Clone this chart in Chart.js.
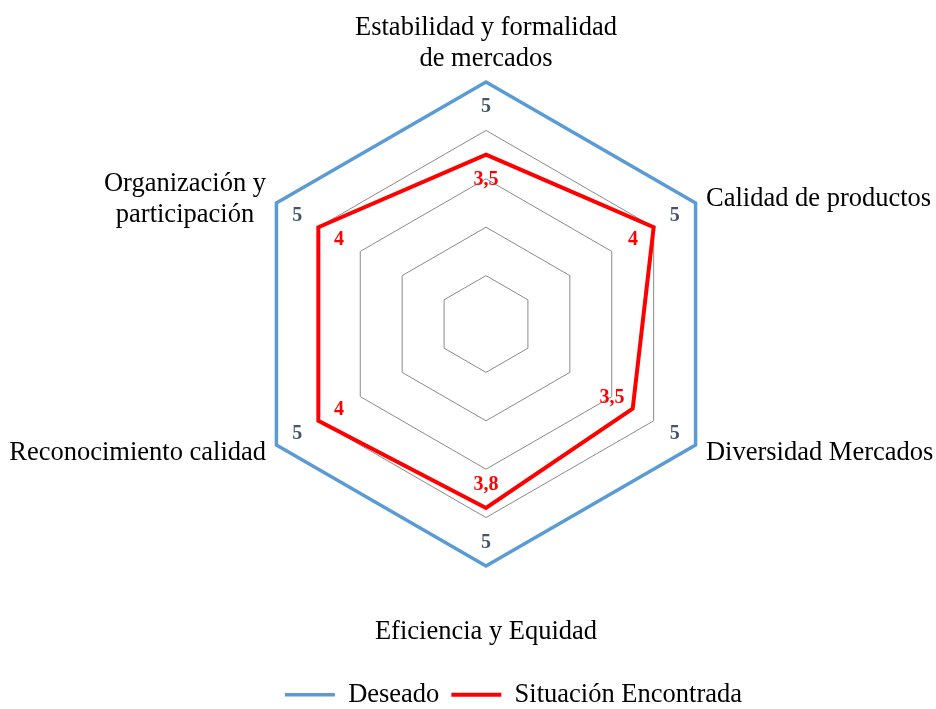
<!DOCTYPE html>
<html lang="es">
<head>
<meta charset="utf-8">
<title>Radar</title>
<script src="https://cdn.jsdelivr.net/npm/chart.js@4.4.1/dist/chart.umd.min.js"></script>
<style>
  html, body { margin: 0; padding: 0; background: #fff; }
  #chart { display: block; }
</style>
</head>
<body>
<canvas id="chart" width="936" height="709"></canvas>
<script>
// --- DATA ---
const categories = [
  ['Estabilidad y formalidad', 'de mercados'],
  'Calidad de productos',
  'Diversidad Mercados',
  'Eficiencia y Equidad',
  'Reconocimiento calidad',
  ['Organización y', 'participación']
];
const seriesNames = ['Deseado', 'Situación Encontrada'];
const deseado = [5, 5, 5, 5, 5, 5];
const situacion = [3.5, 4, 3.5, 3.8, 4, 4];
const scaleTicks = [0, 1, 2, 3, 4, 5];

// --- STYLE ---
const SERIF = "'Liberation Serif', 'Times New Roman', serif";
const lineColors = ['#5B9BD5', '#FF0000'];
const valueColors = ['#44546A', '#FF0000'];
const labelGap = [10, 12, 12, 48, 12, 12];   // distance from outer ring to each axis label

// axis labels drawn around the outer ring (centered multi-line blocks)
const axisLabels = {
  id: 'axisLabels',
  afterDraw(chart) {
    const scale = chart.scales.r;
    const ctx = chart.ctx;
    const lineH = 31;
    ctx.save();
    ctx.font = '26.5px ' + SERIF;
    ctx.fillStyle = '#000';
    ctx.textAlign = 'center';
    ctx.textBaseline = 'middle';
    chart.data.labels.forEach((lab, i) => {
      const lines = [].concat(lab);
      const p = scale.getPointPosition(i, scale.drawingArea + labelGap[i]);
      const w = Math.max(...lines.map(t => ctx.measureText(t).width));
      const h = lines.length * lineH;
      const dx = p.x - scale.xCenter;
      const dy = p.y - scale.yCenter;
      let cx = p.x, top;
      if (Math.abs(dx) < 1) {
        top = dy < 0 ? p.y - h : p.y;
      } else {
        cx = dx > 0 ? p.x + w / 2 : p.x - w / 2;
        top = p.y - h / 2;
      }
      // +2.5: serif 'middle' baseline sits a touch high
      lines.forEach((t, k) => ctx.fillText(t, cx, top + lineH * (k + 0.5) + 2.5));
    });
    ctx.restore();
  }
};

// value labels placed just inside each vertex
const valueLabels = {
  id: 'valueLabels',
  afterDatasetsDraw(chart) {
    const scale = chart.scales.r;
    const ctx = chart.ctx;
    ctx.save();
    ctx.font = 'bold 20px ' + SERIF;
    ctx.textAlign = 'center';
    ctx.textBaseline = 'middle';
    chart.data.datasets.forEach((ds, d) => {
      ctx.fillStyle = valueColors[d];
      ds.data.forEach((v, i) => {
        const p = scale.getPointPosition(i, scale.getDistanceFromCenterForValue(v) - 24);
        ctx.fillText(String(v).replace('.', ','), p.x, p.y + 1);
      });
    });
    ctx.restore();
  }
};

new Chart(document.getElementById('chart'), {
  type: 'radar',
  data: {
    labels: categories,
    datasets: [
      { label: seriesNames[0], data: deseado, borderColor: lineColors[0], backgroundColor: lineColors[0], borderWidth: 3.5 },
      { label: seriesNames[1], data: situacion, borderColor: lineColors[1], backgroundColor: lineColors[1], borderWidth: 4 }
    ]
  },
  options: {
    responsive: false,
    animation: false,
    events: [],
    layout: { padding: { top: 82, left: 218, right: 182, bottom: -9 } },
    elements: {
      line: { fill: false, tension: 0, borderJoinStyle: 'miter' },
      point: { radius: 0, hoverRadius: 0 }
    },
    scales: {
      r: {
        min: scaleTicks[0],
        max: scaleTicks[scaleTicks.length - 1],
        ticks: { display: false, stepSize: scaleTicks[1] - scaleTicks[0] },
        grid: { color: '#8A8A8A', lineWidth: 1 },
        angleLines: { display: false },
        pointLabels: { display: false }
      }
    },
    plugins: {
      tooltip: { enabled: false },
      legend: {
        position: 'bottom',
        align: 'end',
        title: { display: true, text: '', font: { size: 10 }, padding: { top: 90.5, bottom: 0 } },
        labels: {
          usePointStyle: true,
          pointStyle: 'line',
          pointStyleWidth: 50,
          padding: 12,
          color: '#000',
          font: { family: SERIF, size: 26.5 }
        }
      }
    }
  },
  plugins: [valueLabels, axisLabels]
});
</script>
</body>
</html>
